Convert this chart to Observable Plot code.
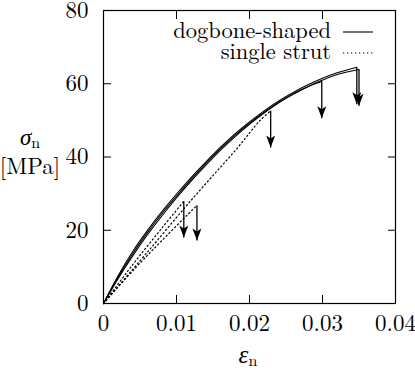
<!DOCTYPE html>
<html><head><meta charset="utf-8">
<script src="https://cdn.jsdelivr.net/npm/d3@7"></script>
<script src="https://cdn.jsdelivr.net/npm/@observablehq/plot@0.6"></script>
<style>
body{margin:0;background:#fff}
#chart{width:415px;height:373px}
</style></head><body><div id="chart"></div>
<script>
// tick values
const xTicks = [0, 0.01, 0.02, 0.03, 0.04];
const yTicks = [0, 20, 40, 60, 80];

// dogbone-shaped specimens: [strain, stress MPa]
const dogboneA = [[0,0],[0.002,7.6],[0.004,14.2],[0.006,19.9],[0.008,25.1],[0.010,29.9],[0.012,34.4],[0.014,38.6],[0.016,42.6],[0.018,46.3],[0.020,49.6],[0.022,52.6],[0.024,55.3],[0.026,57.6],[0.028,59.7],[0.030,61.5],[0.032,63.0],[0.0347,64.5]];
const dogboneB = [[0,0],[0.002,6.8],[0.004,13.0],[0.006,18.7],[0.008,23.9],[0.010,28.8],[0.012,33.4],[0.014,37.7],[0.016,41.8],[0.018,45.5],[0.020,48.9],[0.022,52.0],[0.024,54.8],[0.026,57.1],[0.028,59.2],[0.030,61.0],[0.032,62.5],[0.0350,63.9]];
const dogboneC = [[0,0],[0.002,7.2],[0.004,13.6],[0.006,19.3],[0.008,24.5],[0.010,29.3],[0.012,33.9],[0.014,38.2],[0.016,42.2],[0.018,45.9],[0.020,49.2],[0.022,52.2],[0.024,54.9],[0.026,57.3],[0.028,59.2],[0.0299,60.6]];

// single strut specimens
const strut1 = [[0,0],[0.004,10.6],[0.008,20.6],[0.011,27.9]];
const strut2 = [[0,0],[0.004,8.9],[0.008,17.2],[0.0128,26.8]];
const strut3 = [[0,0],[0.006,14.0],[0.0124,29.1],[0.0181,41.9],[0.0215,50.1],[0.0229,52.6]];

// failure arrows
const arrowStrain = [0.0110, 0.0128, 0.0229, 0.0299, 0.0347, 0.0350];
const arrowFrom   = [27.9, 26.8, 52.6, 60.6, 64.5, 63.9];
const arrowTo     = [18.0, 17.2, 42.6, 50.6, 54.4, 54.0];

const toObj = a => a.map(([x, y]) => ({x, y}));
const dogbone = [dogboneA, dogboneB, dogboneC].map(toObj);
const struts = [strut1, strut2, strut3].map(toObj);
const arrows = arrowStrain.map((x, i) => ({x, y1: arrowFrom[i], y2: arrowTo[i]}));

const head = {draw(ctx) { ctx.moveTo(0, 0); ctx.lineTo(-4.5, -12); ctx.lineTo(0, -9); ctx.lineTo(4.5, -12); ctx.closePath(); }};
const fmtX = d => d === 0 ? "0" : d3.format(".2f")(d);
const FONT = "'Latin Modern Roman', 'Liberation Serif', serif";

const plot = Plot.plot({
  width: 415, height: 373,
  marginLeft: 103, marginRight: 20, marginTop: 10, marginBottom: 70,
  style: {fontSize: "23px", background: "#fff", color: "#000", overflow: "visible"},
  x: {domain: [0, 0.04]},
  y: {domain: [0, 80]},
  marks: [
    ...dogbone.map(d => Plot.line(d, {x: "x", y: "y", stroke: "#000", strokeWidth: 1.1, curve: "catmull-rom"})),
    ...struts.map(d => Plot.line(d, {x: "x", y: "y", stroke: "#000", strokeWidth: 1.2, strokeDasharray: "1.3,2.7", curve: "catmull-rom"})),
    Plot.link(arrows, {x1: "x", x2: "x", y1: "y1", y2: "y2", stroke: "#000", strokeWidth: 1.3}),
    Plot.dot(arrows, {x: "x", y: "y2", symbol: head, fill: "#000", stroke: "none"}),
    Plot.frame({stroke: "#000", strokeWidth: 1.2}),
    Plot.axisX(xTicks, {anchor: "bottom", tickSize: -8, fill: "none", label: null}),
    Plot.axisX(xTicks, {anchor: "top", tickSize: -8, fill: "none", label: null}),
    Plot.axisY(yTicks, {anchor: "left", tickSize: -8, fill: "none", label: null}),
    Plot.axisY(yTicks, {anchor: "right", tickSize: -8, fill: "none", label: null}),
    Plot.axisX(xTicks, {anchor: "bottom", tickSize: 0, tickPadding: 11, stroke: "none", label: null, tickFormat: fmtX, fontSize: 23}),
    Plot.axisY(yTicks, {anchor: "left", tickSize: 0, tickPadding: 15, stroke: "none", label: null, fontSize: 23})
  ]
});
document.getElementById("chart").appendChild(plot);

const svg = d3.select(plot);
// axis titles
const yl = svg.append("text").attr("x", 30).attr("y", 145).attr("text-anchor", "middle").attr("font-size", 23);
yl.append("tspan").attr("font-style", "italic").text("σ");
yl.append("tspan").attr("font-size", 16).attr("dy", 3).text("n");
svg.append("text").attr("x", 30).attr("y", 174).attr("text-anchor", "middle").attr("font-size", 23).text("[MPa]");
const xl = svg.append("text").attr("x", 248).attr("y", 363).attr("text-anchor", "middle").attr("font-size", 25);
xl.append("tspan").attr("font-style", "italic").text("ε");
xl.append("tspan").attr("font-size", 16).attr("dy", 3).text("n");

// legend
const leg = [{t: "dogbone-shaped", y: 32, dash: null}, {t: "single strut", y: 53, dash: "1.3,2.7"}];
leg.forEach(l => {
  svg.append("text").attr("x", 331).attr("y", l.y + 6).attr("text-anchor", "end").attr("font-size", 22.5).text(l.t);
  svg.append("line").attr("x1", 343).attr("x2", 373).attr("y1", l.y).attr("y2", l.y)
    .attr("stroke", "#000").attr("stroke-width", 1.1).attr("stroke-dasharray", l.dash);
});
svg.attr("font-family", null).style("font-family", FONT);
svg.selectAll("text, tspan").attr("font-family", null).style("font-family", FONT);
</script></body></html>
